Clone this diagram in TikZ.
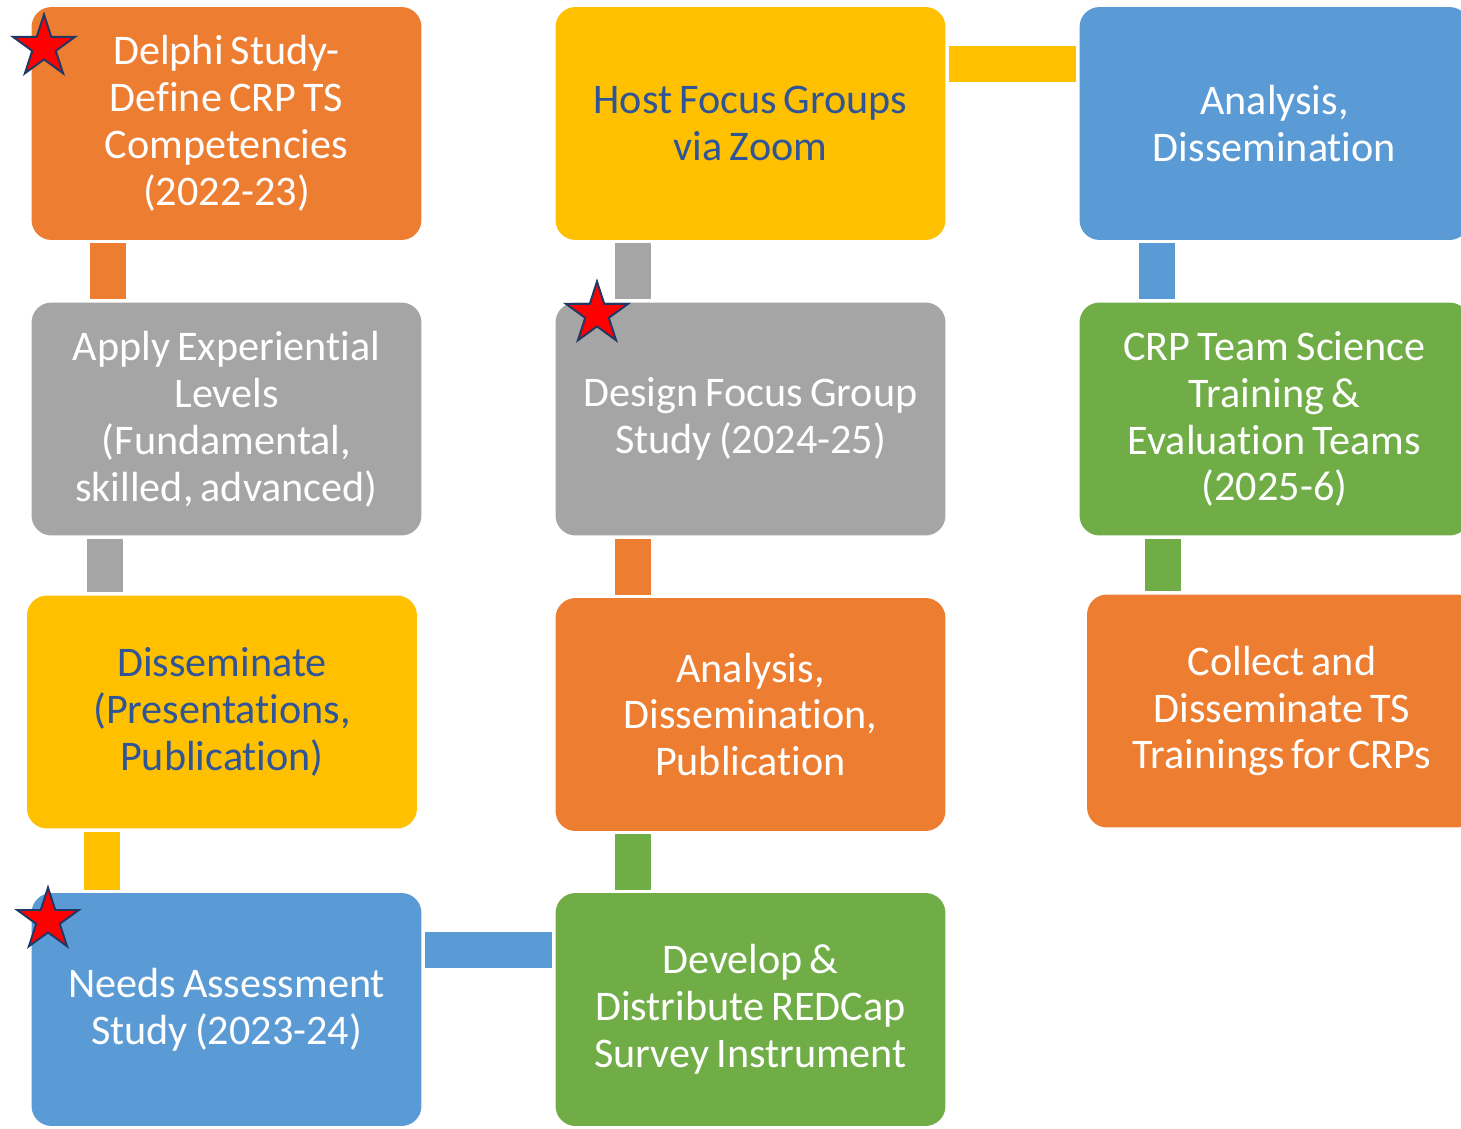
\documentclass[tikz,border=0pt]{standalone}
\usepackage{xcolor}
\usepackage{fontspec}
\usepackage{tikz}
\usetikzlibrary{shapes.geometric}
\setmainfont{Carlito}[RawFeature={-liga;-calt;-dlig;-clig}]

\definecolor{orng}{HTML}{ED7D31}
\definecolor{gry}{HTML}{A5A5A5}
\definecolor{yllw}{HTML}{FFC000}
\definecolor{blu}{HTML}{5B9BD5}
\definecolor{grn}{HTML}{70AD47}
\definecolor{txtblue}{HTML}{2F5597}
\definecolor{navy}{HTML}{203864}

\begin{document}
\begin{tikzpicture}[x=0.02cm, y=-0.02cm,
    every node/.style={font=\fontsize{24pt}{26.7pt}\selectfont},
    phase/.style={rectangle, rounded corners=0.4cm, minimum width=7.8cm, minimum height=4.66cm,
        text width=7.6cm, align=center, inner sep=0pt, text=white,
        execute at begin node={\spaceskip=0.17em\relax}},
    bar/.style={line width=0.72cm, shorten <=0.06cm, shorten >=0.06cm},
    mark star/.style={star, star points=5, star point ratio=2.618, minimum size=1.3cm,
        inner sep=0pt, fill=red, draw=navy, line width=1.1pt}]
    \useasboundingbox (0,0) rectangle (1461,1129);
    \clip (0,0) rectangle (1461,1129);

    % first column
    \node[phase, fill=orng] (delphi) at (226.5,123.5) {Delphi Study-\\Define CRP TS\\Competencies\\(2022-23)};
    \node[phase, fill=gry] (levels) at (226.5,419) {Apply Experiential\\Levels\\(Fundamental,\\skilled, advanced)};
    \node[phase, fill=yllw, text=txtblue] (present) at (222,712) {Disseminate\\(Presentations,\\Publication)};
    \node[phase, fill=blu] (needs) at (226.5,1009.5) {Needs Assessment\\Study (2023-24)};

    % second column
    \node[phase, fill=yllw, text=txtblue] (zoom) at (750.5,123.5) {Host Focus Groups\\via Zoom};
    \node[phase, fill=gry] (focus) at (750.5,419) {Design Focus Group\\Study (2024-25)};
    \node[phase, fill=orng] (publish) at (750.5,714.5) {Analysis,\\Dissemination,\\Publication};
    \node[phase, fill=grn] (redcap) at (750.5,1009.5) {Develop \&\\Distribute REDCap\\Survey Instrument};

    % third column
    \node[phase, fill=blu] (analysis) at (1274.5,123.5) {Analysis,\\Dissemination};
    \node[phase, fill=grn] (teams) at (1274.5,419) {CRP Team Science\\Training \&\\Evaluation Teams\\(2025-6)};
    \node[phase, fill=orng] (trainings) at (1282,711) {Collect and\\Disseminate TS\\Trainings for CRPs};

    % connectors
    \draw[bar, orng] ([xshift=1.54cm]delphi.south west) -- ([xshift=1.54cm]delphi.south west |- levels.north);
    \draw[bar, gry] ([xshift=1.47cm]levels.south west) -- ([xshift=1.47cm]levels.south west |- present.north);
    \draw[bar, yllw] ([xshift=1.51cm]present.south west) -- ([xshift=1.51cm]present.south west |- needs.north);
    \draw[bar, blu] (needs.east |- 0,950) -- (redcap.west |- 0,950);
    \draw[bar, grn] ([xshift=1.56cm]redcap.north west) -- ([xshift=1.56cm]redcap.north west |- publish.south);
    \draw[bar, orng] ([xshift=1.56cm]publish.north west) -- ([xshift=1.56cm]publish.north west |- focus.south);
    \draw[bar, gry] ([xshift=1.56cm]focus.north west) -- ([xshift=1.56cm]focus.north west |- zoom.south);
    \draw[bar, yllw] (zoom.east |- 0,64) -- (analysis.west |- 0,64);
    \draw[bar, blu] ([xshift=1.56cm]analysis.south west) -- ([xshift=1.56cm]analysis.south west |- teams.north);
    \draw[bar, grn] ([xshift=1.67cm]teams.south west) -- ([xshift=1.67cm]teams.south west |- trainings.north);

    % stars
    \node[mark star] (star1) at (44,47) {};
    \node[mark star] (star2) at (597,314) {};
    \node[mark star] (star3) at (48,920) {};
\end{tikzpicture}
\end{document}
